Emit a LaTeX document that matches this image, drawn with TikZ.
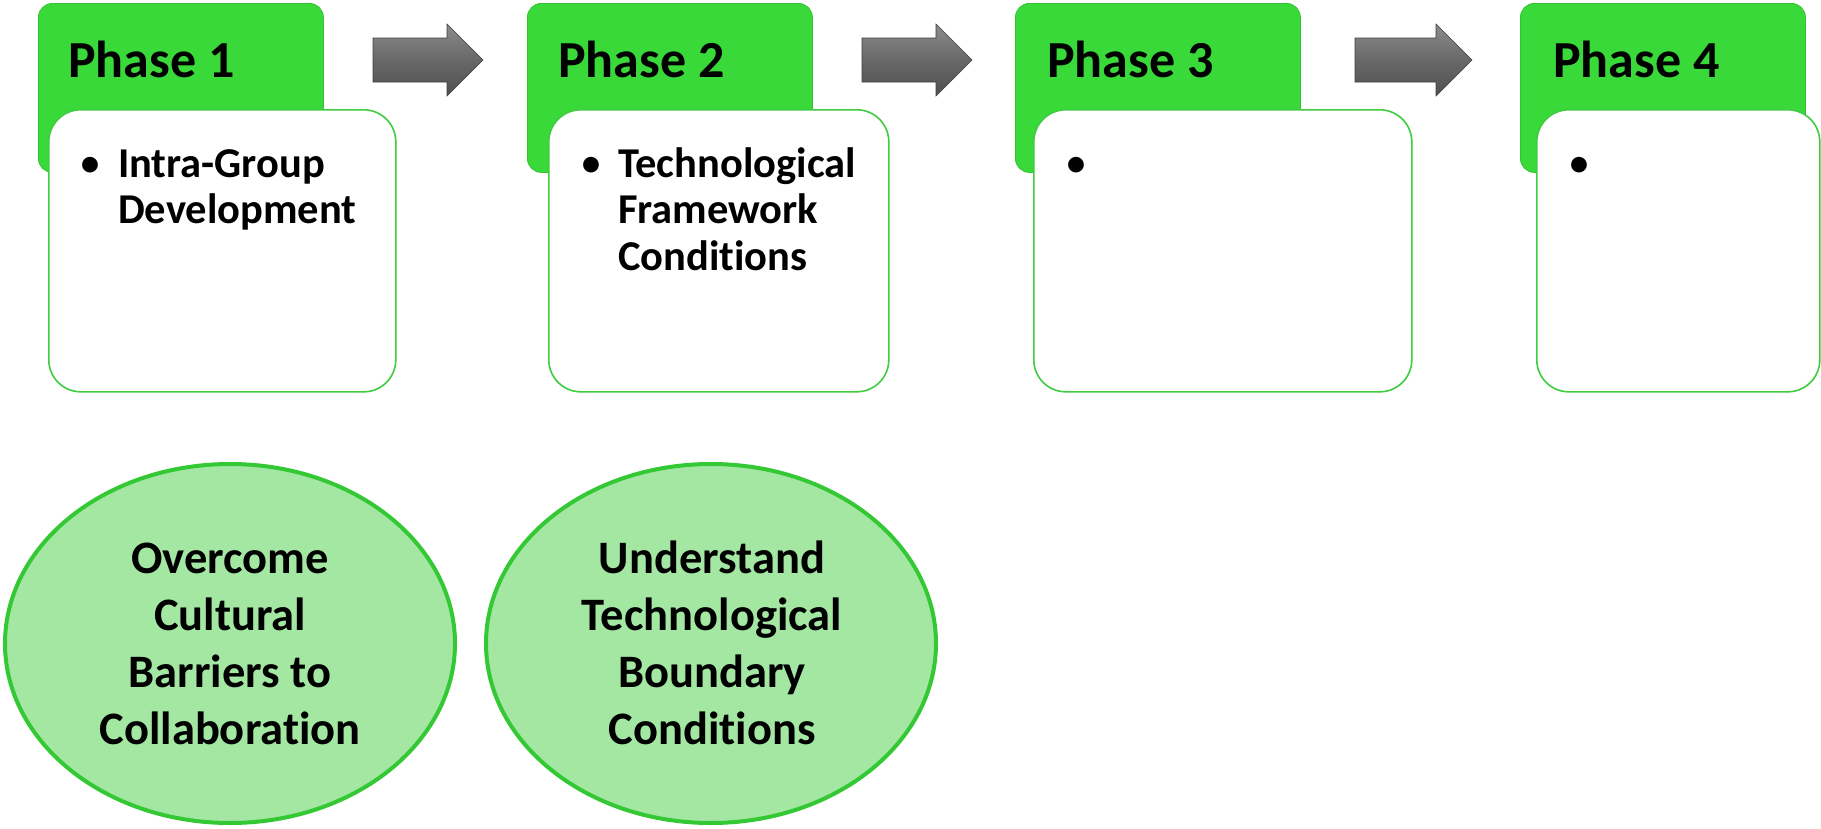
\documentclass[tikz,border=0pt]{standalone}
\usepackage{fontspec}
\setmainfont{Carlito}[Ligatures=NoCommon]
\usetikzlibrary{shapes.geometric}
\definecolor{phasegreen}{RGB}{58,217,58}
\definecolor{phaseedge}{RGB}{50,196,50}
\definecolor{boxedge}{RGB}{64,204,64}
\definecolor{ellfill}{RGB}{163,231,163}
\definecolor{elledge}{RGB}{52,201,52}
\definecolor{arrowlight}{RGB}{140,140,140}
\definecolor{arrowmid}{RGB}{104,104,104}
\definecolor{arrowdark}{RGB}{80,80,80}
\begin{document}
\begin{tikzpicture}[x=1pt,y=-1pt,
  phasebox/.style={draw=phaseedge, line width=0.8pt, fill=phasegreen, rounded corners=14pt, minimum width=285pt, minimum height=169pt, anchor=north west, inner sep=0pt},
  phaselabel/.style={anchor=base west, inner sep=0pt, font=\fontsize{52}{60}\selectfont\bfseries},
  contentbox/.style={draw=boxedge, line width=1.6pt, fill=white, rounded corners=32pt, minimum height=282pt, anchor=north west, inner sep=0pt},
  bulletmark/.style={anchor=base, inner sep=0pt, font=\fontsize{37}{40}\selectfont\bfseries},
  bullettext/.style={anchor=north west, inner sep=0pt, align=left, font=\fontsize{42.5}{46.5}\selectfont\bfseries},
  goal/.style={ellipse, draw=elledge, line width=4pt, fill=ellfill, minimum width=450pt, minimum height=359pt, inner sep=0pt},
  goaltext/.style={anchor=north, inner sep=0pt, align=center, font=\fontsize{46.5}{57}\selectfont\bfseries},
  blockarrow/.style={draw=arrowdark!80!black, line width=0.6pt, top color=arrowlight, bottom color=arrowdark, middle color=arrowmid},
]
\useasboundingbox (0,0) rectangle (1821,828);
\fill[white] (0,0) rectangle (1821,828);

% phase headers
\node[phasebox] (g1) at (38,3) {};
\node[phasebox] (g2) at (527,3) {};
\node[phasebox] (g3) at (1015,3) {};
\node[phasebox] (g4) at (1520,3) {};
\node[phaselabel] (l1) at (68,77) {Phase 1};
\node[phaselabel] (l2) at (558,77) {Phase 2};
\node[phaselabel] (l3) at (1047,77) {Phase 3};
\node[phaselabel] (l4) at (1553,77) {Phase 4};

% content boxes
\node[contentbox, minimum width=347pt] (w1) at (48,109) {};
\node[contentbox, minimum width=340pt] (w2) at (548,109) {};
\node[contentbox, minimum width=378pt] (w3) at (1033,109) {};
\node[contentbox, minimum width=283pt] (w4) at (1536,109) {};

% bullets
\node[bulletmark] (b1) at (90,175) {•};
\node[bulletmark] (b2) at (591,175) {•};
\node[bulletmark] (b3) at (1076,175) {•};
\node[bulletmark] (b4) at (1579,175) {•};
\node[bullettext] (t1) at (118,142) {\rule{0pt}{35pt}Intra-Group\\Development};
\node[bullettext] (t2) at (618,142) {\rule{0pt}{35pt}Technological\\Framework\\Conditions};

% block arrows
\coordinate (a1) at (373,38);
\coordinate (a2) at (862,38);
\coordinate (a3) at (1355,38);
\draw[blockarrow] (a1) -- ++(74,0) -- ++(0,-14) -- ++(36,36) -- ++(-36,36) -- ++(0,-14) -- ++(-74,0) -- cycle;
\draw[blockarrow] (a2) -- ++(74,0) -- ++(0,-14) -- ++(36,36) -- ++(-36,36) -- ++(0,-14) -- ++(-74,0) -- cycle;
\draw[blockarrow] (a3) -- ++(81,0) -- ++(0,-14) -- ++(36,36) -- ++(-36,36) -- ++(0,-14) -- ++(-81,0) -- cycle;

% goals
\node[goal] (e1) at (230,643.5) {};
\node[goal] (e2) at (711,643.5) {};
\node[goaltext] (et1) at (230,535) {\rule{0pt}{38pt}Overcome\\Cultural\\Barriers to\\Collaboration};
\node[goaltext] (et2) at (712,535) {\rule{0pt}{38pt}Understand\\Technological\\Boundary\\Conditions};
\end{tikzpicture}
\end{document}
